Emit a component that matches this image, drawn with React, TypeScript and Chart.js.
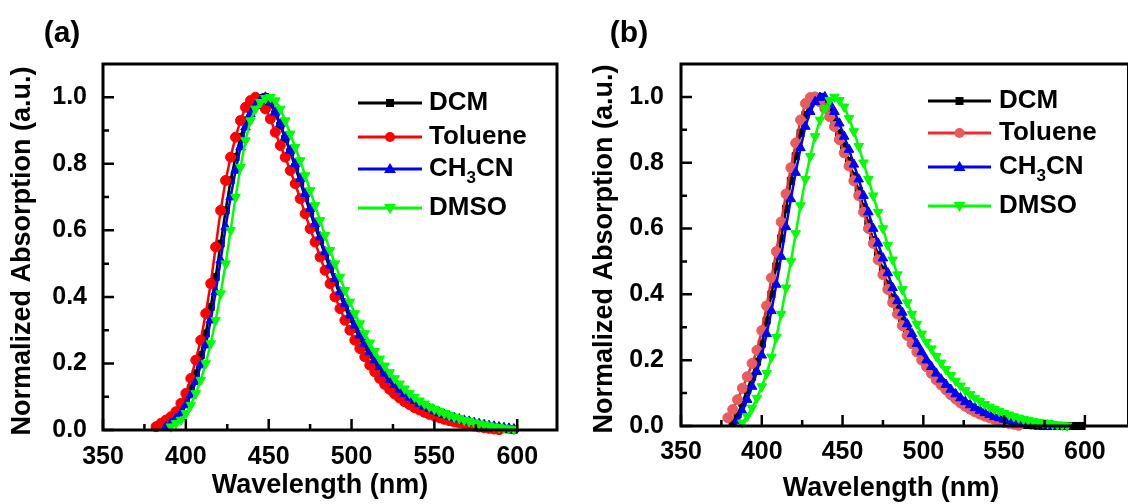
import React, { useEffect, useRef } from "react";
import { Chart, registerables } from "chart.js";
Chart.register(...registerables);

const FONT = '"Liberation Sans", Arial, Helvetica, sans-serif';

const seriesNames = ["DCM", "Toluene", "CH3CN", "DMSO"];
const xTickValues = [350, 400, 450, 500, 550, 600];
const xTickLabels = ["350", "400", "450", "500", "550", "600"];
const xMinorTicks = [375, 425, 475, 525, 575];
const yTickValues = [0, 0.2, 0.4, 0.6, 0.8, 1.0];
const yTickLabels = ["0.0", "0.2", "0.4", "0.6", "0.8", "1.0"];
const yMinorTicks = [0.1, 0.3, 0.5, 0.7, 0.9];
const xAxisTitle = "Wavelength (nm)";
const yAxisTitle = "Normalized Absorption (a.u.)";

// ---------- Panel (a) ----------
const wavelengthsA = [
  382, 385, 388, 391, 394, 397, 400, 403, 406, 409,
  412, 415, 418, 421, 424, 427, 430, 433, 436, 439,
  442, 445, 448, 451, 454, 457, 460, 463, 466, 469,
  472, 475, 478, 481, 484, 487, 490, 493, 496, 499,
  502, 505, 508, 511, 514, 517, 520, 523, 526, 529,
  532, 535, 538, 541, 544, 547, 550, 553, 556, 559,
  562, 565, 568, 571, 574, 577, 580, 583, 586, 589,
  592, 595, 598,
];
const dcmA = [
  null, 0.01, 0.02, 0.03, 0.045, 0.065, 0.09, 0.125, 0.17, 0.225,
  0.29, 0.37, 0.46, 0.56, 0.66, 0.75, 0.82, 0.88, 0.93, 0.965,
  0.985, 0.997, 1.0, 0.98, 0.95, 0.915, 0.875, 0.835, 0.79, 0.745,
  0.70, 0.655, 0.61, 0.57, 0.525, 0.485, 0.445, 0.405, 0.37, 0.335,
  0.305, 0.275, 0.25, 0.225, 0.20, 0.18, 0.16, 0.143, 0.128, 0.114,
  0.102, 0.091, 0.081, 0.072, 0.064, 0.057, 0.051, 0.045, 0.04, 0.035,
  0.031, 0.027, 0.024, 0.02, 0.017, 0.014, 0.012, 0.009, 0.007, 0.005,
  0.003, 0.002, 0.001,
];
const tolueneA = [
  0.01, 0.02, 0.03, 0.04, 0.055, 0.08, 0.11, 0.155, 0.21, 0.27,
  0.35, 0.44, 0.55, 0.66, 0.75, 0.82, 0.88, 0.93, 0.97, 0.99,
  1.0, 0.99, 0.965, 0.935, 0.895, 0.855, 0.82, 0.78, 0.74, 0.695,
  0.65, 0.605, 0.565, 0.52, 0.48, 0.44, 0.40, 0.365, 0.33, 0.30,
  0.27, 0.245, 0.22, 0.195, 0.175, 0.155, 0.137, 0.122, 0.108, 0.096,
  0.085, 0.076, 0.067, 0.06, 0.053, 0.047, 0.042, 0.037, 0.032, 0.028,
  0.024, 0.021, 0.018, 0.015, 0.012, 0.009, 0.007, 0.005, 0.003, 0.001,
  null, null, null,
];
const ch3cnA = [
  null, null, 0.01, 0.02, 0.035, 0.05, 0.075, 0.105, 0.145, 0.195,
  0.255, 0.33, 0.415, 0.51, 0.61, 0.70, 0.78, 0.85, 0.91, 0.95,
  0.975, 0.99, 1.0, 0.985, 0.955, 0.92, 0.88, 0.84, 0.80, 0.755,
  0.71, 0.665, 0.62, 0.58, 0.535, 0.495, 0.455, 0.415, 0.38, 0.345,
  0.315, 0.285, 0.26, 0.235, 0.21, 0.19, 0.17, 0.152, 0.136, 0.122,
  0.109, 0.098, 0.088, 0.079, 0.071, 0.064, 0.057, 0.051, 0.046, 0.041,
  0.037, 0.033, 0.029, 0.026, 0.022, 0.019, 0.016, 0.013, 0.011, 0.009,
  0.007, 0.005, 0.003,
];
const dmsoA = [
  null, null, null, 0.01, 0.02, 0.03, 0.05, 0.075, 0.11, 0.15,
  0.20, 0.26, 0.33, 0.41, 0.50, 0.60, 0.70, 0.79, 0.87, 0.93,
  0.965, 0.985, 0.997, 1.0, 0.99, 0.965, 0.93, 0.89, 0.85, 0.81,
  0.765, 0.72, 0.675, 0.63, 0.585, 0.54, 0.50, 0.46, 0.42, 0.385,
  0.35, 0.32, 0.29, 0.262, 0.237, 0.214, 0.193, 0.173, 0.155, 0.139,
  0.124, 0.111, 0.099, 0.088, 0.079, 0.07, 0.063, 0.056, 0.05, 0.044,
  0.039, 0.035, 0.03, 0.026, 0.022, 0.019, 0.016, 0.013, 0.01, 0.008,
  0.006, 0.004, 0.002,
];

// ---------- Panel (b) ----------
const wavelengthsB = [
  379, 382, 385, 388, 391, 394, 397, 400, 403, 406,
  409, 412, 415, 418, 421, 424, 427, 430, 433, 436,
  439, 442, 445, 448, 451, 454, 457, 460, 463, 466,
  469, 472, 475, 478, 481, 484, 487, 490, 493, 496,
  499, 502, 505, 508, 511, 514, 517, 520, 523, 526,
  529, 532, 535, 538, 541, 544, 547, 550, 553, 556,
  559, 562, 565, 568, 571, 574, 577, 580, 583, 586,
  589, 592, 595, 598,
];
const dcmB = [
  null, 0.01, 0.035, 0.07, 0.11, 0.15, 0.195, 0.25, 0.32, 0.40,
  0.485, 0.57, 0.66, 0.745, 0.82, 0.89, 0.945, 0.98, 0.997, 1.0,
  0.98, 0.955, 0.925, 0.89, 0.85, 0.805, 0.76, 0.715, 0.665, 0.615,
  0.565, 0.52, 0.475, 0.43, 0.39, 0.355, 0.32, 0.29, 0.26, 0.235,
  0.21, 0.19, 0.17, 0.15, 0.133, 0.117, 0.102, 0.089, 0.077, 0.066,
  0.057, 0.048, 0.041, 0.034, 0.028, 0.023, 0.018, 0.014, 0.011, 0.008,
  0.006, 0.004, 0.003, 0.002, 0.001, 0, 0, 0, 0, 0,
  0, 0, 0, 0,
];
const tolueneB = [
  0.025, 0.05, 0.08, 0.115, 0.15, 0.19, 0.23, 0.29, 0.365, 0.45,
  0.53, 0.62, 0.705, 0.785, 0.86, 0.93, 0.98, 0.998, 1.0, 0.985,
  0.965, 0.94, 0.91, 0.87, 0.83, 0.79, 0.745, 0.70, 0.65, 0.60,
  0.555, 0.505, 0.46, 0.415, 0.375, 0.34, 0.305, 0.275, 0.25, 0.225,
  0.20, 0.18, 0.16, 0.14, 0.125, 0.11, 0.095, 0.082, 0.07, 0.06,
  0.051, 0.043, 0.036, 0.03, 0.025, 0.02, 0.015, 0.011, 0.008, 0.005,
  0.002, null, null, null, null, null, null, null, null, null,
  null, null, null, null,
];
const ch3cnB = [
  null, null, 0.015, 0.045, 0.08, 0.12, 0.165, 0.215, 0.28, 0.35,
  0.43, 0.515, 0.605, 0.69, 0.77, 0.845, 0.91, 0.955, 0.985, 0.998,
  1.0, 0.98, 0.955, 0.92, 0.88, 0.84, 0.795, 0.75, 0.70, 0.65,
  0.60, 0.555, 0.51, 0.465, 0.42, 0.38, 0.345, 0.31, 0.28, 0.25,
  0.225, 0.20, 0.18, 0.16, 0.142, 0.126, 0.111, 0.097, 0.085, 0.074,
  0.064, 0.055, 0.047, 0.04, 0.034, 0.028, 0.024, 0.02, 0.016, 0.013,
  0.011, 0.009, 0.007, 0.005, 0.004, 0.003, 0.002, 0.001, null, null,
  null, null, null, null,
];
const dmsoB = [
  null, null, null, 0.01, 0.03, 0.055, 0.085, 0.12, 0.16, 0.21,
  0.27, 0.34, 0.42, 0.50, 0.585, 0.67, 0.75, 0.82, 0.88, 0.93,
  0.965, 0.99, 1.0, 0.99, 0.97, 0.935, 0.895, 0.85, 0.80, 0.75,
  0.70, 0.65, 0.60, 0.55, 0.505, 0.46, 0.415, 0.375, 0.34, 0.31,
  0.28, 0.255, 0.235, 0.212, 0.192, 0.172, 0.154, 0.137, 0.122, 0.108,
  0.096, 0.085, 0.075, 0.066, 0.058, 0.051, 0.045, 0.039, 0.034, 0.029,
  0.025, 0.021, 0.018, 0.015, 0.012, 0.01, 0.008, 0.006, 0.004, 0.003,
  0.001, null, null, null,
];

type Style = { line: string; fill: string; shape: string; rot: number; radius: number };

const stylesA: Style[] = [
  { line: "#000000", fill: "#000000", shape: "rect", rot: 0, radius: 5 },
  { line: "#ff0000", fill: "#ff0000", shape: "circle", rot: 0, radius: 5 },
  { line: "#0000ff", fill: "#0000ff", shape: "triangle", rot: 0, radius: 5.5 },
  { line: "#00ff00", fill: "#00ff00", shape: "triangle", rot: 180, radius: 5.5 },
];
const stylesB: Style[] = [
  { line: "#000000", fill: "#000000", shape: "rect", rot: 0, radius: 5 },
  { line: "#f42a2a", fill: "#e85c5c", shape: "circle", rot: 0, radius: 5 },
  { line: "#0000ff", fill: "#0000ff", shape: "triangle", rot: 0, radius: 5.5 },
  { line: "#00ff00", fill: "#00ff00", shape: "triangle", rot: 180, radius: 5.5 },
];

function toPoints(xs: number[], ys: (number | null)[]) {
  const pts: { x: number; y: number }[] = [];
  for (let i = 0; i < xs.length; i++) {
    const v = ys[i];
    if (v !== null && v !== undefined) pts.push({ x: xs[i], y: v });
  }
  return pts;
}

type PanelCfg = {
  label: string;
  width: number;
  left: number;
  xMax: number;
  padTop: number;
  padRight: number;
  yAxisWidth: number;
  xAxisHeight: number;
  yTickPad: number;
  xTickPad: number;
  xTitleAt: number;
  xTitleY: number;
  yTitleX: number;
  yTitleY: number;
  labelX: number;
  labelY: number;
  legX1: number;
  legX2: number;
  legText: number;
  legRows: number[];
  styles: Style[];
  wavelengths: number[];
  series: (number | null)[][];
};

function drawMarker(ctx: CanvasRenderingContext2D, st: Style, x: number, y: number) {
  ctx.save();
  ctx.fillStyle = st.fill;
  ctx.beginPath();
  if (st.shape === "rect") {
    ctx.rect(x - 4, y - 4, 8, 8);
  } else if (st.shape === "circle") {
    ctx.arc(x, y, 5, 0, Math.PI * 2);
  } else {
    const s = st.rot === 180 ? -1 : 1;
    ctx.moveTo(x, y - 6 * s);
    ctx.lineTo(x - 6, y + 4 * s);
    ctx.lineTo(x + 6, y + 4 * s);
    ctx.closePath();
  }
  ctx.fill();
  ctx.restore();
}

function makeDecor(cfg: PanelCfg) {
  return {
    id: "decor",
    afterDraw(chart: any) {
      const ctx: CanvasRenderingContext2D = chart.ctx;
      const { left, right, top, bottom } = chart.chartArea;
      const xs = chart.scales.x;
      const ys = chart.scales.y;
      ctx.save();
      ctx.strokeStyle = "#000";
      ctx.lineWidth = 3;
      ctx.strokeRect(left, top, right - left, bottom - top);
      ctx.lineWidth = 2.5;
      ctx.beginPath();
      for (const v of xTickValues) {
        const p = xs.getPixelForValue(v);
        ctx.moveTo(p, bottom);
        ctx.lineTo(p, bottom - 11);
      }
      for (const v of xMinorTicks) {
        const p = xs.getPixelForValue(v);
        ctx.moveTo(p, bottom);
        ctx.lineTo(p, bottom - 6);
      }
      for (const v of yTickValues) {
        const p = ys.getPixelForValue(v);
        ctx.moveTo(left, p);
        ctx.lineTo(left + 11, p);
      }
      for (const v of yMinorTicks) {
        const p = ys.getPixelForValue(v);
        ctx.moveTo(left, p);
        ctx.lineTo(left + 6, p);
      }
      ctx.stroke();

      ctx.fillStyle = "#000";
      ctx.textAlign = "center";
      ctx.textBaseline = "middle";
      ctx.font = `bold 27px ${FONT}`;
      ctx.fillText(xAxisTitle, xs.getPixelForValue(cfg.xTitleAt), cfg.xTitleY);
      ctx.save();
      ctx.translate(cfg.yTitleX, cfg.yTitleY);
      ctx.rotate(-Math.PI / 2);
      ctx.fillText(yAxisTitle, 0, 0);
      ctx.restore();

      ctx.font = `bold 30px ${FONT}`;
      ctx.fillText(cfg.label, cfg.labelX, cfg.labelY);

      // legend
      ctx.textAlign = "left";
      for (let i = 0; i < seriesNames.length; i++) {
        const st = cfg.styles[i];
        const y = cfg.legRows[i];
        ctx.strokeStyle = st.line;
        ctx.lineWidth = 3;
        ctx.beginPath();
        ctx.moveTo(cfg.legX1, y);
        ctx.lineTo(cfg.legX2, y);
        ctx.stroke();
        drawMarker(ctx, st, (cfg.legX1 + cfg.legX2) / 2, y);
        ctx.fillStyle = "#000";
        const name = seriesNames[i];
        if (name === "CH3CN") {
          ctx.font = `bold 26px ${FONT}`;
          let x = cfg.legText;
          ctx.fillText("CH", x, y);
          x += ctx.measureText("CH").width;
          ctx.font = `bold 17px ${FONT}`;
          ctx.fillText("3", x, y + 9);
          x += ctx.measureText("3").width;
          ctx.font = `bold 26px ${FONT}`;
          ctx.fillText("CN", x, y);
        } else {
          ctx.font = `bold 26px ${FONT}`;
          ctx.fillText(name, cfg.legText, y);
        }
      }
      ctx.restore();
    },
  };
}

const panelA: PanelCfg = {
  label: "(a)",
  width: 564,
  left: 0,
  xMax: 624,
  padTop: 64,
  padRight: 7,
  yAxisWidth: 103,
  xAxisHeight: 74,
  yTickPad: 16,
  xTickPad: 12,
  xTitleAt: 481,
  xTitleY: 486,
  yTitleX: 23,
  yTitleY: 251,
  labelX: 62,
  labelY: 34,
  legX1: 358,
  legX2: 422,
  legText: 429,
  legRows: [103, 137, 169, 208],
  styles: stylesA,
  wavelengths: wavelengthsA,
  series: [dcmA, tolueneA, ch3cnA, dmsoA],
};

const panelB: PanelCfg = {
  label: "(b)",
  width: 571,
  left: 564,
  xMax: 627,
  padTop: 64,
  padRight: 3,
  yAxisWidth: 117,
  xAxisHeight: 78,
  yTickPad: 17,
  xTickPad: 11,
  xTitleAt: 480,
  xTitleY: 489,
  yTitleX: 41,
  yTitleY: 249,
  labelX: 65,
  labelY: 34,
  legX1: 364,
  legX2: 427,
  legText: 435,
  legRows: [101, 133, 167, 206],
  styles: stylesB,
  wavelengths: wavelengthsB,
  series: [dcmB, tolueneB, ch3cnB, dmsoB],
};

function Panel({ cfg }: { cfg: PanelCfg }) {
  const ref = useRef<HTMLCanvasElement | null>(null);
  useEffect(() => {
    if (!ref.current) return;
    const tickFont = { family: FONT, size: 25, weight: "bold" as const };
    const datasets = cfg.series.map((vals, i) => {
      const st = cfg.styles[i];
      return {
        label: seriesNames[i],
        data: toPoints(cfg.wavelengths, vals),
        borderColor: st.line,
        backgroundColor: st.fill,
        pointBackgroundColor: st.fill,
        pointBorderColor: st.fill,
        pointBorderWidth: 1,
        pointStyle: st.shape,
        pointRotation: st.rot,
        pointRadius: st.radius,
        borderWidth: 2.5,
        tension: 0,
        fill: false,
        clip: false as any,
        order: 4 - i,
      };
    });
    const chart = new Chart(ref.current, {
      type: "line",
      data: { datasets: datasets as any },
      options: {
        animation: false,
        responsive: false,
        maintainAspectRatio: false,
        events: [],
        layout: { padding: { left: 0, top: cfg.padTop, right: cfg.padRight, bottom: 0 } },
        plugins: { legend: { display: false }, tooltip: { enabled: false }, title: { display: false } },
        scales: {
          x: {
            type: "linear",
            min: 350,
            max: cfg.xMax,
            grid: { display: false, drawTicks: false },
            border: { display: false },
            afterBuildTicks: (s: any) => {
              s.ticks = xTickValues.map((v) => ({ value: v }));
            },
            afterFit: (s: any) => {
              s.height = cfg.xAxisHeight;
            },
            ticks: {
              padding: cfg.xTickPad,
              color: "#000",
              font: tickFont,
              autoSkip: false,
              maxRotation: 0,
              callback: (_v: any, i: number) => xTickLabels[i],
            },
          },
          y: {
            type: "linear",
            min: 0,
            max: 1.1,
            grid: { display: false, drawTicks: false },
            border: { display: false },
            afterBuildTicks: (s: any) => {
              s.ticks = yTickValues.map((v) => ({ value: v }));
            },
            afterFit: (s: any) => {
              s.width = cfg.yAxisWidth;
            },
            ticks: {
              padding: cfg.yTickPad,
              color: "#000",
              font: tickFont,
              autoSkip: false,
              callback: (_v: any, i: number) => yTickLabels[i],
            },
          },
        },
      } as any,
      plugins: [makeDecor(cfg)],
    });
    return () => chart.destroy();
  }, [cfg]);
  return (
    <canvas
      ref={ref}
      width={cfg.width}
      height={504}
      style={{ position: "absolute", left: cfg.left, top: 0, width: cfg.width, height: 504 }}
    />
  );
}

export default function App() {
  return (
    <div
      style={{
        position: "absolute",
        left: 0,
        top: 0,
        width: 1128,
        height: 504,
        overflow: "hidden",
        background: "#ffffff",
      }}
    >
      <Panel cfg={panelA} />
      <Panel cfg={panelB} />
    </div>
  );
}
